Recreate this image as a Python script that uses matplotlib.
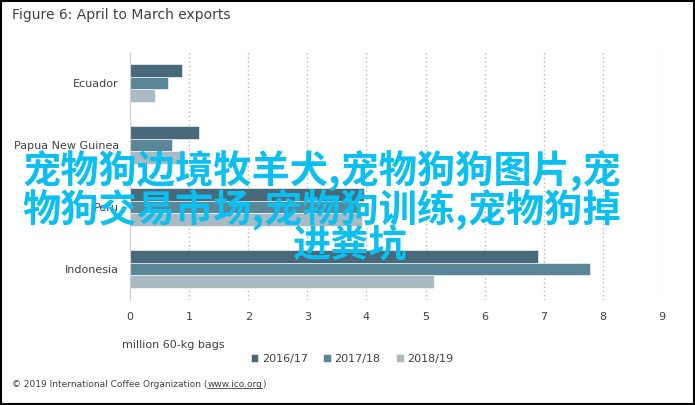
import numpy as np
import matplotlib.pyplot as plt
from matplotlib.patches import Rectangle

# 데이터
countries = ['Ecuador', 'Papua New Guinea', 'Peru', 'Indonesia']
seasons = ['2016/17', '2017/18', '2018/19']
exports_1617 = [0.88, 1.17, 3.96, 6.90]
exports_1718 = [0.64, 0.71, 3.85, 7.78]
exports_1819 = [0.42, 0.90, 3.93, 5.15]
colors = ['#476979', '#5a8797', '#a9bac3']
xticks = list(range(10))

overlay_lines = ['宠物狗边境牧羊犬,宠物狗狗图片,宠',
                 '物狗交易市场,宠物狗训练,宠物狗掉',
                 '进粪坑']

plt.rcParams['font.family'] = ['DejaVu Sans']

fig = plt.figure(figsize=(6.95, 4.05), dpi=100)
ax = fig.add_axes([130 / 695, 1 - 300 / 405, 532 / 695, 248 / 405])

y = np.arange(len(countries))
h = 0.204
for i, vals in enumerate([exports_1617, exports_1718, exports_1819]):
    ax.barh(y + (i - 1) * h, vals, height=h, color=colors[i],
            edgecolor='white', linewidth=0.4, label=seasons[i], zorder=2)

ax.set_ylim(len(countries) - 0.5, -0.5)
ax.set_xlim(0, 9)
ax.set_yticks(y)
ax.set_yticklabels(countries, fontsize=8, color='#404040')
ax.set_xticks(xticks)
ax.set_xticklabels([str(t) for t in xticks], fontsize=8, color='#404040')
ax.tick_params(length=0)
ax.tick_params(axis='x', pad=9)
ax.tick_params(axis='y', pad=8)
for s in ['top', 'right', 'bottom']:
    ax.spines[s].set_visible(False)
ax.spines['left'].set_color('#d0d0d0')
ax.grid(axis='x', linestyle=(0, (1, 2)), color='#b8b8b8', linewidth=1, zorder=0)
ax.set_axisbelow(True)

# 제목, 축 설명, 범례
fig.text(12 / 695, 1 - 15 / 405, 'Figure 6: April to March exports', fontsize=10,
         color='#404040', va='center', ha='left')
fig.text(122 / 695, 1 - 345 / 405, 'million 60-kg bags', fontsize=8,
         color='#404040', va='center', ha='left')
fig.legend(loc='center', bbox_to_anchor=(352 / 695, 1 - 359 / 405), ncol=3,
           frameon=False, fontsize=8, handlelength=0.7, handleheight=0.7,
           handletextpad=0.3, columnspacing=1.4, labelcolor='#404040')

# 저작권 표시 (URL 밑줄)
t1 = fig.text(12 / 695, 1 - 387 / 405, '© 2019 International Coffee Organization (',
              fontsize=6.5, color='#404040', va='baseline', ha='left')
t2 = ax.annotate('www.ico.org', xy=(1, 0), xycoords=t1, va='bottom', ha='left',
                 fontsize=6.5, color='#404040', annotation_clip=False)
t3 = ax.annotate(')', xy=(1, 0), xycoords=t2, va='bottom', ha='left',
                 fontsize=6.5, color='#404040', annotation_clip=False)
fig.canvas.draw()
bb = t2.get_window_extent().transformed(fig.transFigure.inverted())
fig.add_artist(plt.Line2D([bb.x0, bb.x1], [bb.y0 + 0.002, bb.y0 + 0.002],
                          color='#404040', linewidth=0.6))

# 이미지 테두리
fig.add_artist(Rectangle((0.001, 0.002), 0.997, 0.996, transform=fig.transFigure,
                         fill=False, edgecolor='black', linewidth=1.5))

# 워터마크 텍스트
for line, (cx, cy) in zip(overlay_lines, [(322, 171), (322, 209), (349, 246)]):
    fig.text(cx / 695, 1 - cy / 405, line, fontsize=27.5, color='#0bbff0',
             ha='center', va='center',
             family=['Noto Sans CJK SC', 'DejaVu Sans'], fontweight='bold')

fig.savefig('out.png', dpi=100)
